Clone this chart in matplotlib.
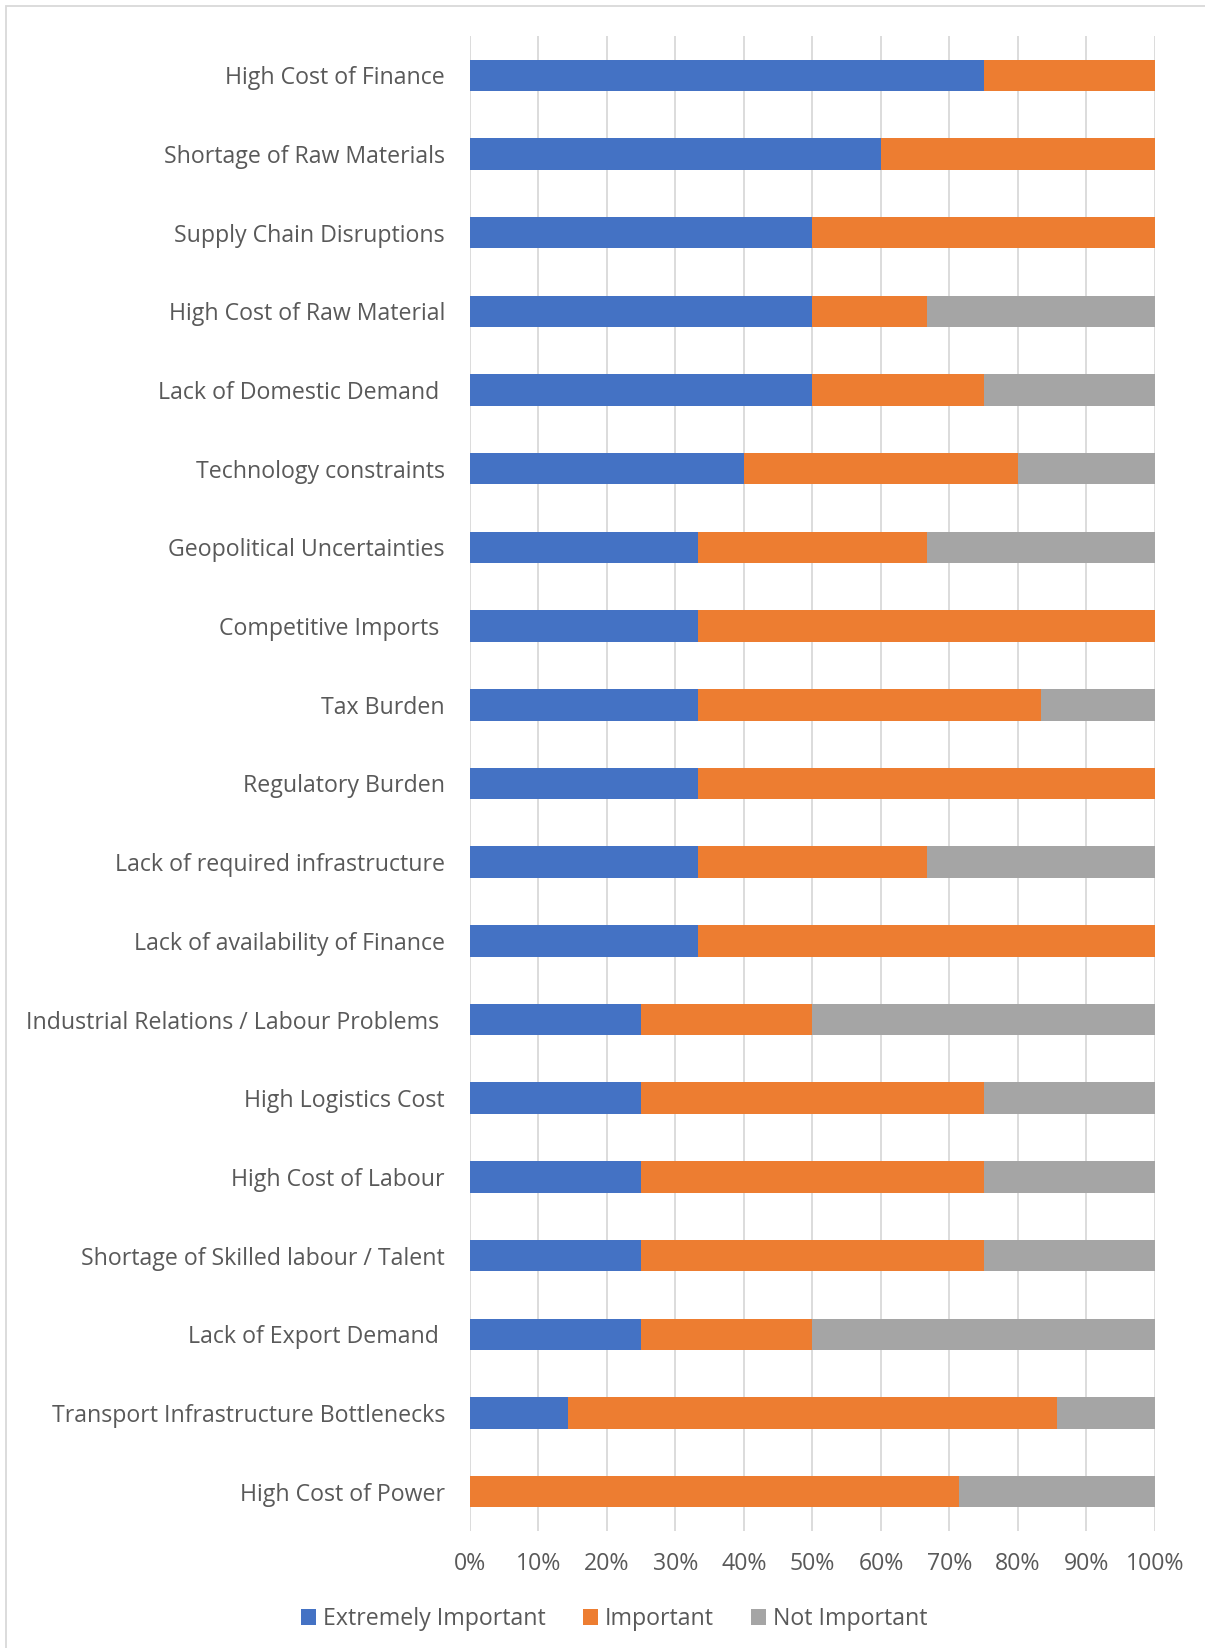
import numpy as np
import matplotlib
matplotlib.use("Agg")
import matplotlib.pyplot as plt
from matplotlib.patches import Rectangle
from matplotlib.ticker import PercentFormatter

# categories, top to bottom as in the chart
categories = [
    "High Cost of Finance",
    "Shortage of Raw Materials",
    "Supply Chain Disruptions",
    "High Cost of Raw Material",
    "Lack of Domestic Demand ",
    "Technology constraints",
    "Geopolitical Uncertainties",
    "Competitive Imports ",
    "Tax Burden",
    "Regulatory Burden",
    "Lack of required infrastructure",
    "Lack of availability of Finance",
    "Industrial Relations / Labour Problems ",
    "High Logistics Cost",
    "High Cost of Labour",
    "Shortage of Skilled labour / Talent",
    "Lack of Export Demand ",
    "Transport Infrastructure Bottlenecks",
    "High Cost of Power",
]

extremely_important = [75, 60, 50, 50, 50, 40, 33.33, 33.33, 33.33, 33.33, 33.33, 33.33,
                       25, 25, 25, 25, 25, 14.29, 0]
important = [25, 40, 50, 16.67, 25, 40, 33.33, 66.67, 50, 66.67, 33.33, 66.67,
             25, 50, 50, 50, 25, 71.43, 71.43]
not_important = [0, 0, 0, 33.33, 25, 20, 33.34, 0, 16.67, 0, 33.34, 0,
                 50, 25, 25, 25, 50, 14.28, 28.57]

series_names = ["Extremely Important", "Important", "Not Important"]
colors = ["#4472C4", "#ED7D31", "#A5A5A5"]
text_color = "#595959"

plt.rcParams['font.family'] = ['Open Sans', 'DejaVu Sans']

fig = plt.figure(figsize=(12.05, 16.48), dpi=100)
ax = fig.add_axes([0.390, 0.0710, 0.5685, 0.9072])

y = np.arange(len(categories))
left = np.zeros(len(categories))
for vals, name, c in zip([extremely_important, important, not_important], series_names, colors):
    vals = np.array(vals)
    ax.barh(y, vals, left=left, height=0.4, color=c, label=name, zorder=3)
    left = left + vals

ax.set_ylim(len(categories) - 0.5, -0.5)
ax.set_xlim(0, 100)
ax.set_xticks(np.arange(0, 101, 10))
ax.xaxis.set_major_formatter(PercentFormatter(decimals=0))
ax.set_yticks(y)
ax.set_yticklabels(categories)
ax.grid(axis='x', color="#D9D9D9", linewidth=1.3, zorder=0)
for s in ax.spines.values():
    s.set_visible(False)
ax.tick_params(axis='both', length=0, labelsize=16.7, colors=text_color)
ax.tick_params(axis='x', pad=15)
ax.tick_params(axis='y', pad=18)

leg = fig.legend(loc='center', bbox_to_anchor=(0.51, 1 - 1619 / 1648), ncol=3, frameon=False,
                 fontsize=16.7, handlelength=0.65, handleheight=0.65, handletextpad=0.3,
                 columnspacing=1.6, labelcolor=text_color)

# outer chart border
fig.patches.append(Rectangle((6 / 1205, -0.01), 1.1, 1 - 6 / 1648 + 0.01, transform=fig.transFigure,
                             fill=False, edgecolor="#D9D9D9", linewidth=1.3))

fig.savefig("out.png", dpi=100)
